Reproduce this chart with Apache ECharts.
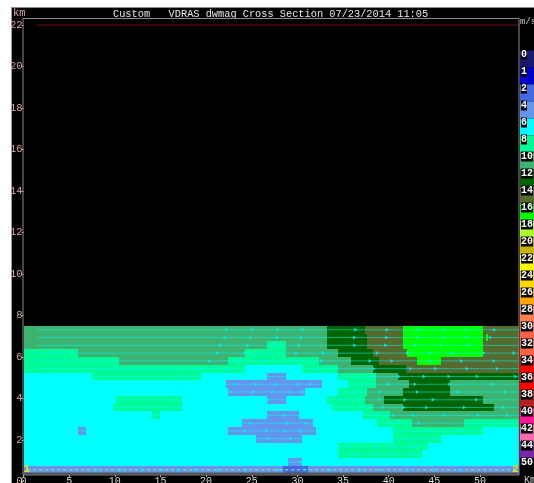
<!DOCTYPE html>
<html><head><meta charset="utf-8">
<style>
html,body{margin:0;padding:0;background:#fff;width:534px;height:483px;overflow:hidden}
#panel{position:absolute;left:11px;top:7px;width:523px;height:476px;background:#000;border-left:1.5px solid #999;border-top:1px solid #888;box-sizing:border-box}
#chart{position:absolute;left:0;top:0;width:534px;height:483px;filter:blur(0.4px)}
</style>
<script src="https://cdn.jsdelivr.net/npm/echarts@6/dist/echarts.min.js"></script>
</head><body><div id="panel"></div><div id="chart"></div>
<script>
const legendValues = [0,1,2,4,6,8,10,12,14,16,18,20,22,24,26,28,30,32,34,36,38,40,42,44,50];
const legendColors = ['#191970','#0000cd','#4169e1','#6495ed','#00ffff','#00fa9a','#3cb371','#006400','#556b2f','#00ff00','#adff2f','#c8b400','#ffff00','#ffd700','#ffa500','#ff7f50','#ff6347','#ff6347','#ff0000','#ff0000','#b22222','#ff1493','#ff69b4','#7b28a8','#000000'];
const xTicks = [0,5,10,15,20,25,30,35,40,45,50];
const rowDepth = 0.375;
const topLineKm = 22;
// each row, bottom to top: speed, end km of that run, speed, end km ...
const speedRows = [
 [4,28.42,2,31.16,4,54.27],
 [6,29.0,4,30.54,6,54.27],
 [6,34.45,8,43.68,6,54.27],
 [6,34.45,8,44.30,6,54.27],
 [6,25.47,4,30.47,6,40.50,8,45.76,6,54.27],
 [6,5.94,4,6.85,6,22.43,4,32.04,6,40.50,8,50.36,6,54.27],
 [6,23.96,4,31.74,6,38.69,8,42.52,10,48.25,8,54.27],
 [6,14.07,8,14.92,6,26.64,4,30.21,6,37.22,8,40.14,10,54.27],
 [6,9.84,8,17.33,6,33.82,8,38.31,10,41.60,12,51.53,10,54.27],
 [6,10.13,8,17.33,6,26.64,4,28.75,6,33.27,8,37.40,10,39.48,12,50.36,10,54.27],
 [6,22.43,4,30.83,6,34.45,8,37.66,10,41.60,12,46.71,10,54.27],
 [6,22.18,4,32.66,6,35.57,8,38.61,10,42.26,12,46.71,10,54.27],
 [6,7.47,8,19.44,6,26.64,4,28.75,6,34.45,8,38.61,10,41.05,12,54.27],
 [8,24.26,6,30.54,8,34.45,10,38.31,12,41.86,14,54.27],
 [8,10.49,10,22.43,8,32.37,10,35.87,12,38.94,14,43.07,16,45.76,14,54.27],
 [8,5.94,10,24.26,8,28.75,10,34.45,12,38.31,14,41.97,16,50.36,14,54.27],
 [10,26.64,8,28.75,10,33.21,12,37.66,14,41.60,16,50.36,14,54.27],
 [10,33.21,12,37.66,14,41.60,16,50.36,14,50.63,16,50.88,14,54.27],
 [10,33.21,12,37.40,14,41.60,16,50.36,14,54.27]
];
// arrow heads on the flow lines, km along each row, bottom to top
const arrowRows = [
 [8.02,10.65,13.06,15.14,16.96,18.89,21.34,24.37,27.88,30.83,33.65,36.93,39.12,42.04,44.96,47.89],
 [30.36],
 [36.20,38.72,40.47,42.88],
 [35.76,38.61,40.69,42.69],
 [26.81,29.27,42.04,44.96,50.25],
 [24.26,26.64,28.64,30.39,44.60,47.89,52.27],
 [24.88,29.0,30.94,40.58,43.32,53.18],
 [28.53,38.86,40.50,42.69,46.17,49.81,53.03],
 [16.96,34.96,37.22,39.41,41.68,44.16,48.28,52.63],
 [16.52,26.81,34.74,36.67,38.97,41.79,44.88,49.64],
 [22.73,25.17,27.29,29.27,30.58,36.67,39.05,43.13,47.62,52.74],
 [23.17,25.47,27.66,30.10,31.49,37.22,39.96,42.88,46.71,51.46],
 [17.03,38.03,41.13,43.87,46.60,49.70,53.91],
 [19.04,22.18,29.41,32.37,38.39,42.41,45.15,48.61,51.89],
 [20.35,23.27,26.37,29.70,32.69,37.95,40.36,44.60,47.99,51.53],
 [21.23,24.26,29.88,32.84,38.75,42.04,44.52,46.90,50.44,53.72],
 [21.60,24.59,27.55,30.18,36.28,39.67,42.96,45.80,48.69],
 [22.07,24.88,27.80,30.43,36.28,39.78,43.13,46.06,48.61,51.17],
 [22.26,25.10,27.88,30.61,36.39,39.85,43.32,46.06,48.54,51.61]
];
const xMax = 54.27, yMax = 22.34, lineStart = 1.5, lineEnd = 54.27;

const mono = '"Liberation Mono","DejaVu Sans Mono",monospace';
const colorOf = v => legendColors[legendValues.indexOf(v)];
const rowCentre = r => rowDepth * (r + 1.5);

const cells = [];
speedRows.forEach((row, r) => {
  let start = 0;
  for (let i = 0; i < row.length; i += 2) {
    cells.push([start, row[i + 1], rowDepth * (r + 1), rowDepth * (r + 2), row[i]]);
    start = row[i + 1];
  }
});
const arrows = [];
arrowRows.forEach((row, r) => row.forEach(x => arrows.push([x, rowCentre(r)])));

const flowLines = speedRows.map((_, r) => ({
  type: 'line', xAxisIndex: 0, yAxisIndex: 0, silent: true, symbol: 'none', z: 4, animation: false,
  data: [[r === 0 ? 0.4 : lineStart, rowCentre(r)], [lineEnd, rowCentre(r)]],
  lineStyle: r === 0 ? {color: '#b8e060', width: 1, type: [3, 3]} : {color: 'rgba(0,255,255,0.5)', width: 1}
}));

const chart = echarts.init(document.getElementById('chart'), null, {renderer: 'canvas'});
chart.setOption({
  animation: false,
  backgroundColor: 'transparent',
  title: {
    text: 'Custom   VDRAS dwmag Cross Section 07/23/2014 11:05',
    left: 113, top: 8, padding: 0,
    textStyle: {color: '#e8e8e8', fontFamily: mono, fontSize: 10.3, fontWeight: 'normal', lineHeight: 12}
  },
  grid: [
    {left: 23.5, width: 495.5, top: 18, height: 463.5, show: false, outerBoundsMode: 'none'},
    {left: 520, width: 14, top: 50.5, height: 425, show: false, outerBoundsMode: 'none'}
  ],
  xAxis: [
    {type: 'value', gridIndex: 0, min: 0, max: xMax, interval: 5, offset: -6.5,
     axisLine: {show: false}, splitLine: {show: false},
     axisTick: {length: 2, lineStyle: {color: '#bbb'}},
     axisLabel: {color: '#ddd', fontFamily: mono, fontSize: 10, margin: 1, showMaxLabel: false,
       formatter: v => xTicks.includes(v) ? String(v) : ''}},
    {type: 'value', gridIndex: 1, min: 0, max: 1, show: false}
  ],
  yAxis: [
    {type: 'value', gridIndex: 0, min: 0, max: yMax, interval: 2,
     axisLine: {show: false}, splitLine: {show: false},
     axisTick: {length: 2, lineStyle: {color: '#bbb'}},
     axisLabel: {color: '#e0a4a4', fontFamily: mono, fontSize: 10.5, margin: 1, showMaxLabel: false}},
    {type: 'category', gridIndex: 1, inverse: true, data: legendValues.map(String), show: false}
  ],
  graphic: [
    {type: 'rect', z: 100, silent: true, shape: {x: 23, y: 18.5, width: 496, height: 456.5}, style: {fill: 'none', stroke: '#8a8a8a', lineWidth: 1}},
    {type: 'line', z: 99, silent: true, shape: {x1: 23, y1: 473.5, x2: 519, y2: 473.5}, style: {stroke: '#555', lineWidth: 2}},
    {type: 'text', z: 100, silent: true, x: 13, y: 7.5, style: {text: 'km', fill: '#e0a4a4', font: '10.5px ' + mono}},
    {type: 'text', z: 100, silent: true, x: 520, y: 17, style: {text: 'm/s', fill: '#ccc', font: '9px ' + mono}},
    {type: 'text', z: 100, silent: true, x: 524, y: 475.5, style: {text: 'Km', fill: '#ccc', font: '10px ' + mono}},
    {type: 'text', z: 100, silent: true, x: 23.5, y: 464, style: {text: '1', fill: '#e8e020', font: 'bold 11px ' + mono}},
    {type: 'text', z: 100, silent: true, x: 512, y: 464, style: {text: '2', fill: '#e8e020', font: 'bold 11px ' + mono}}
  ],
  series: [
    {type: 'custom', xAxisIndex: 0, yAxisIndex: 0, silent: true, z: 2, data: cells,
     encode: {x: [0, 1], y: [2, 3]},
     renderItem: (params, api) => {
       const a = api.coord([api.value(0), api.value(3)]);
       const b = api.coord([api.value(1), api.value(2)]);
       const x0 = Math.round(a[0]), x1 = Math.round(b[0]), y0 = Math.round(a[1]), y1 = Math.round(b[1]);
       return {type: 'rect', shape: {x: x0, y: y0, width: x1 - x0, height: y1 - y0}, style: {fill: colorOf(api.value(4))}};
     }},
    ...flowLines,
    {type: 'scatter', xAxisIndex: 0, yAxisIndex: 0, silent: true, z: 5, data: arrows,
     symbol: 'triangle', symbolSize: [4, 3], symbolRotate: -90,
     itemStyle: {color: 'rgba(0,245,245,0.85)', opacity: 1}},
    {type: 'line', xAxisIndex: 0, yAxisIndex: 0, silent: true, symbol: 'none', z: 3,
     data: [[lineStart, topLineKm], [xMax, topLineKm]],
     lineStyle: {color: '#7a1010', width: 1}},
    {type: 'bar', xAxisIndex: 1, yAxisIndex: 1, silent: true, barWidth: '100%', z: 3,
     data: legendValues.map((v, i) => ({value: 1, itemStyle: {color: legendColors[i]},
       label: {show: true, formatter: String(v), position: [1, -1], color: '#fff',
         fontFamily: mono, fontSize: 10, fontWeight: 'bold', backgroundColor: '#000', padding: [0, 0, 0, 0], lineHeight: 10}}))}
  ]
});
</script></body></html>
